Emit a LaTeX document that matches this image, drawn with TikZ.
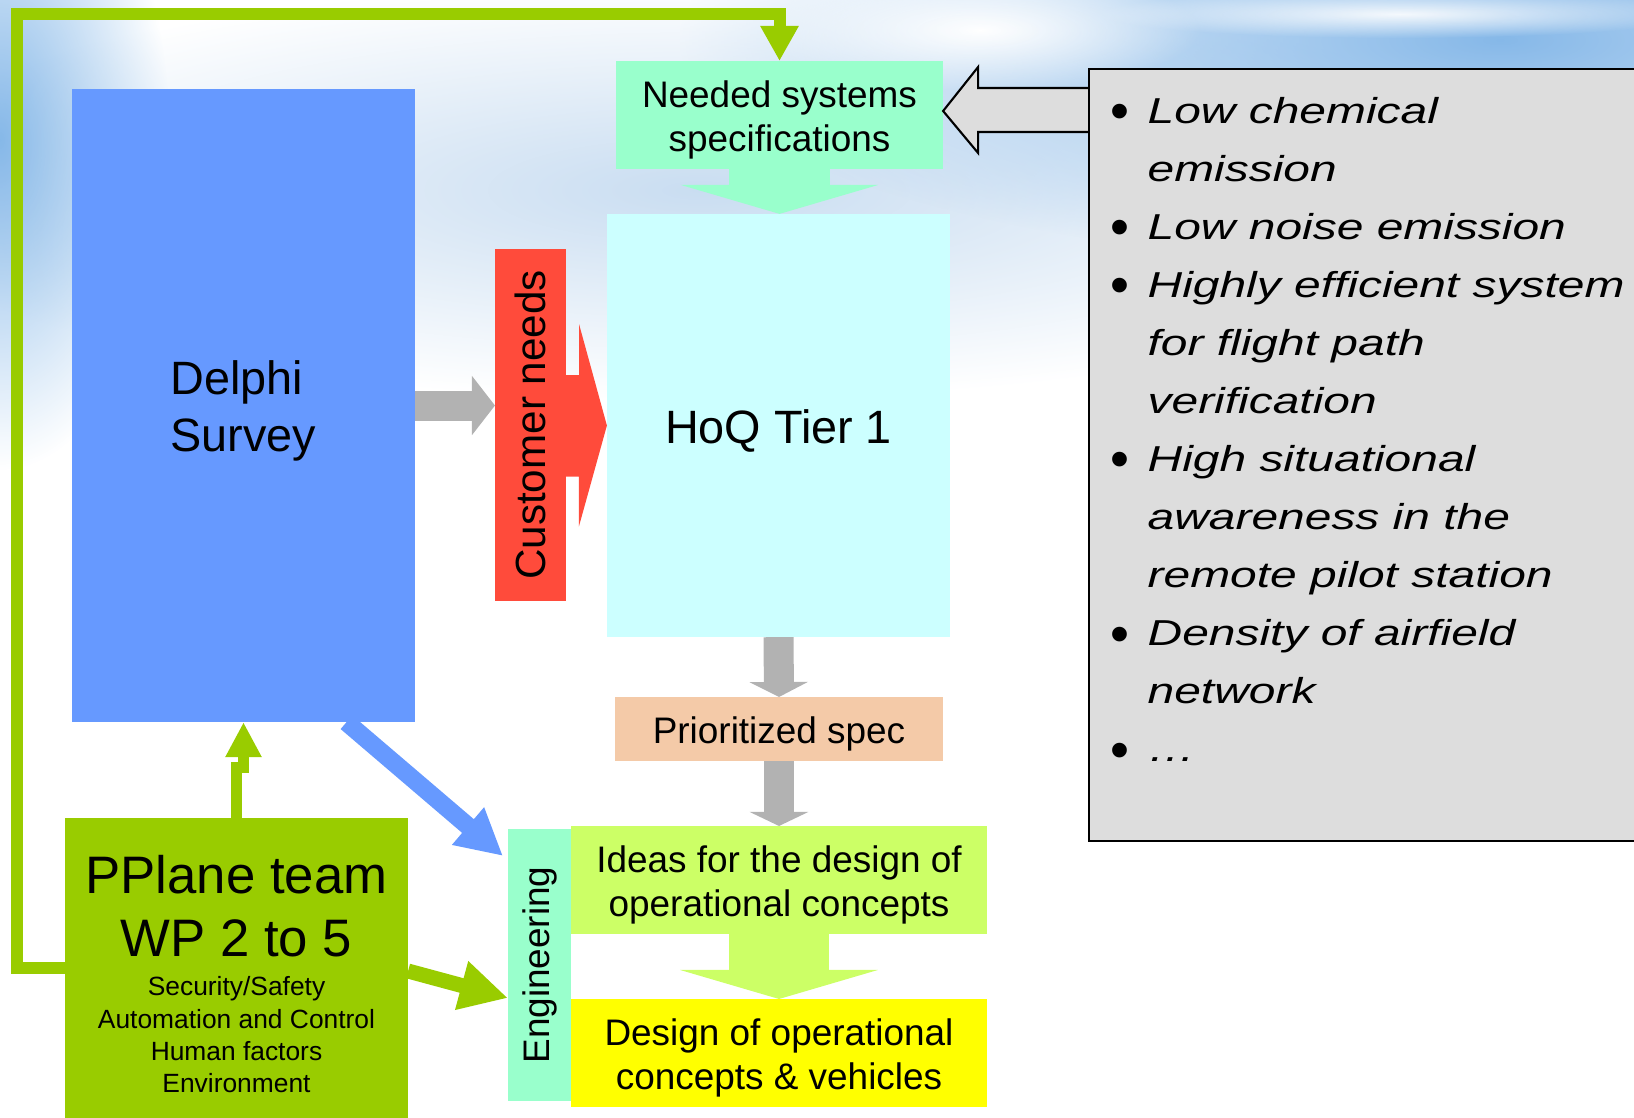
\documentclass[tikz,border=0pt]{standalone}
\usepackage{fontspec}
\setmainfont{Liberation Sans}
\usepackage{graphicx}
\usetikzlibrary{arrows.meta,calc,fadings,backgrounds}

\definecolor{delphiblue}{HTML}{6699FF}
\definecolor{neededgreen}{HTML}{99FFCC}
\definecolor{hoqcyan}{HTML}{CCFFFF}
\definecolor{needred}{HTML}{FF4B3B}
\definecolor{arrowgray}{HTML}{B2B2B2}
\definecolor{priopeach}{HTML}{F4CAA8}
\definecolor{ideasgreen}{HTML}{CCFF66}
\definecolor{designyellow}{HTML}{FFFF00}
\definecolor{ppgreen}{HTML}{99CC00}
\definecolor{callgray}{HTML}{DDDDDD}
\definecolor{skyblue}{HTML}{86B8E8}
\definecolor{skylight}{HTML}{C9DDF1}

\tikzfading[name=skyfade,inner color=transparent!0,outer color=transparent!100]

\newcommand{\hoqfont}{\fontsize{13.3pt}{16.2pt}\selectfont}
\newcommand{\midfont}{\fontsize{10.5pt}{12.7pt}\selectfont}
\newcommand{\cnfont}{\fontsize{12pt}{14pt}\selectfont}
\newcommand{\ppfont}{\fontsize{15pt}{17.9pt}\selectfont}
\newcommand{\subfont}{\fontsize{7.5pt}{9.2pt}\selectfont}
\newcommand{\listfont}{\fontsize{10.25pt}{16.5pt}\selectfont\itshape}
\newcommand{\lo}[1]{\raisebox{-0.05cm}[\height][\depth]{#1}}
\newcommand{\bul}{\raisebox{-0.18em}{\scalebox{1.13}[1.5]{\upshape\textbullet}}}

\begin{document}
\begin{tikzpicture}[x=0.01cm,y=-0.01cm,line join=miter,
  block/.style={inner sep=0pt,outer sep=0pt,align=center},
  grayarr/.style={draw=arrowgray,line width=0.30cm,-{Triangle[width=0.58cm,length=#1]}},
  greenarr/.style={draw=ppgreen,line width=#1},
  widearr/.style={line width=1.0cm,-{Triangle[width=1.97cm,length=0.29cm]}}]
\useasboundingbox (0,0) rectangle (1634,1117);
\clip (0,0) rectangle (1634,1117);

\begin{scope}[on background layer]
  \clip (0,0) rectangle (1634,1117);
  \fill[skylight,path fading=skyfade] (700,190) ellipse (850 and 210);
  \fill[skyblue,path fading=skyfade] (0,140) ellipse (170 and 330);
  \fill[skyblue,path fading=skyfade] (1500,40) ellipse (820 and 230);
  \fill[white,path fading=skyfade,opacity=0.9] (1400,14) ellipse (300 and 24);
  \fill[white,path fading=skyfade] (980,30) ellipse (220 and 60);
\end{scope}

\node[block,fill=delphiblue,minimum width=3.43cm,minimum height=6.33cm,font=\hoqfont,align=left] (delphi) at (243.5,405.5) {\lo{Delphi}\\\lo{Survey}};
\node[block,fill=neededgreen,minimum width=3.27cm,minimum height=1.08cm,font=\midfont] (needed) at (779.5,115) {\lo{Needed systems}\\\lo{specifications}};
\node[block,fill=hoqcyan,minimum width=3.43cm,minimum height=4.23cm,font=\hoqfont] (hoq) at (778.5,425.5) {\lo{HoQ Tier 1}};
\node[block,fill=needred,minimum width=0.71cm,minimum height=3.52cm,font=\cnfont] (cneeds) at (530.5,425) {\rotatebox{90}{Customer needs}};
\node[block,fill=priopeach,minimum width=3.28cm,minimum height=0.64cm,font=\midfont] (prio) at (779,729) {\lo{Prioritized spec}};
\node[block,fill=ideasgreen,minimum width=4.16cm,minimum height=1.08cm,font=\midfont] (ideas) at (779,880) {\lo{Ideas for the design of}\\\lo{operational concepts}};
\node[block,fill=designyellow,minimum width=4.16cm,minimum height=1.08cm,font=\midfont] (design) at (779,1053) {\lo{Design of operational}\\\lo{concepts \& vehicles}};
\node[block,fill=neededgreen,minimum width=0.63cm,minimum height=2.72cm,font=\midfont] (eng) at (539.5,965) {\rotatebox{90}{Engineering}};
\node[block,fill=ppgreen,minimum width=3.43cm,minimum height=3.12cm] (pplane) at (236.5,974) {};
\node[block,font=\ppfont] (pptitle) at (236.5,906) {PPlane team\\WP 2 to 5};
\node[block,font=\subfont] (ppsub) at (236.5,1035) {Security/Safety\\Automation and Control\\Human factors\\Environment};

\draw[fill=callgray,line width=0.6pt] ($(needed.east)+(0,-4)$) -- ++(35,-44) -- ++(0,21) -- ++(115,0) -- ++(0,44) -- ++(-115,0) -- ++(0,21) -- cycle;
\node[block,draw=black,fill=callgray,line width=0.02cm,minimum width=5.72cm,minimum height=7.72cm] (callout) at (1375,455) {};
\node[anchor=north west,inner sep=0pt] (needlist) at (1110,82) {\listfont\scalebox{1.33}[1]{%
\begin{tabular}{@{}l@{\hspace{0.135cm}}l@{}}
\bul & Low chemical\\
 & emission\\
\bul & Low noise emission\\
\bul & Highly efficient system\\
 & for flight path\\
 & verification\\
\bul & High situational\\
 & awareness in the\\
 & remote pilot station\\
\bul & Density of airfield\\
 & network\\
\bul & …
\end{tabular}}};

\fill[needred] ($(cneeds.east)+(0,-50)$) -- ++(13,0) -- ++(0,-51) -- (hoq.west) -- ++(-28,101) -- ++(0,-50) -- ++(-13,0) -- cycle;

\draw[grayarr=0.23cm] (delphi.east) -- (delphi.east -| cneeds.west);
\draw[grayarr=0.15cm] (hoq.south) -- (prio.north);
\draw[grayarr=0.14cm] (prio.south) -- (ideas.north);
\draw[widearr,draw=neededgreen] (needed.south) -- (needed.south |- hoq.north);
\draw[widearr,draw=ideasgreen] (ideas.south) -- (design.north);

\draw[greenarr=0.12cm,-{Triangle[width=0.36cm,length=0.35cm]}] (pplane.west |- 0,968) -| (17,13.5) -| (needed.north);
\draw[greenarr=0.11cm,-{Triangle[width=0.34cm,length=0.35cm]}] (pplane.north) -- ++(0,-50) -| (delphi.south);
\draw[greenarr=0.15cm,-{Triangle[width=0.47cm,length=0.48cm]}] (pplane.east |- 0,971) -- ($(eng.west)+(0,33)$);

\begin{scope}[on background layer]
  \draw[draw=delphiblue,line width=0.18cm,-{Triangle[width=0.46cm,length=0.46cm]}] ($(delphi.south west)!0.8!(delphi.south east)$) -- ($(eng.north west)+(-5,27)$);
\end{scope}
\end{tikzpicture}
\end{document}
